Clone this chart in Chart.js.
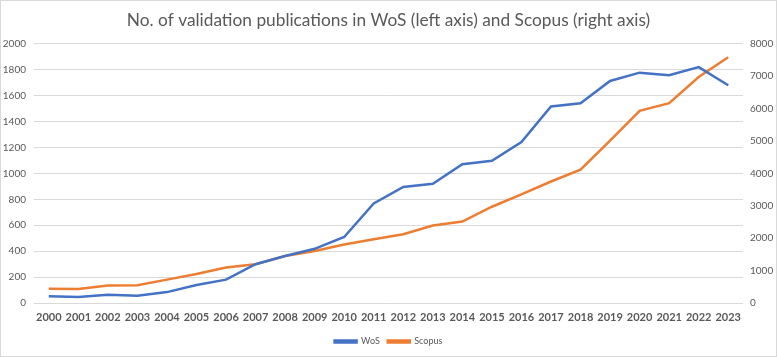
<!DOCTYPE html>
<html>
<head>
<meta charset="utf-8">
<script src="https://cdn.jsdelivr.net/npm/chart.js@4"></script>
<style>
html,body{margin:0;padding:0;background:#fff;}
#wrap{width:777px;height:357px;box-sizing:border-box;border:1px solid #d9d9d9;position:relative;}
canvas{display:block;}
</style>
</head>
<body>
<div id="wrap"><canvas id="c" width="775" height="355"></canvas></div>
<script>
const years = ["2000","2001","2002","2003","2004","2005","2006","2007","2008","2009","2010","2011","2012","2013","2014","2015","2016","2017","2018","2019","2020","2021","2022","2023"];
const wos = [53,46,63,56,84,139,180,299,362,418,509,768,895,920,1070,1097,1242,1516,1541,1713,1777,1757,1820,1680];
const scopus = [436,435,538,548,721,892,1095,1196,1450,1602,1805,1968,2120,2393,2515,2971,3355,3750,4116,5010,5931,6166,6975,7583];
const leftTicks = [0,200,400,600,800,1000,1200,1400,1600,1800,2000];
const rightTicks = [0,1000,2000,3000,4000,5000,6000,7000,8000];
const titleText = "No. of validation publications in WoS (left axis) and Scopus (right axis)";

const grey = "#595959";
const FONT = "Lato, 'Open Sans', sans-serif";

new Chart(document.getElementById('c'), {
  type: 'line',
  data: {
    labels: years,
    datasets: [
      {label:'WoS', data: wos, yAxisID:'yL', borderColor:'#4472C4', backgroundColor:'#4472C4', borderWidth:2.5, pointRadius:0, tension:0},
      {label:'Scopus', data: scopus, yAxisID:'yR', borderColor:'#ED7D31', backgroundColor:'#ED7D31', borderWidth:2.5, pointRadius:0, tension:0}
    ]
  },
  options: {
    responsive:false,
    animation:false,
    layout:{padding:{left:0,right:0,top:0,bottom:0}},
    plugins:{
      title:{display:true, text:titleText, color:grey, font:{family:FONT, size:17.3, weight:'normal'}, padding:{top:9,bottom:13}},
      legend:{position:'bottom', labels:{color:grey, font:{family:FONT, size:9}, boxWidth:22, boxHeight:2, padding:8, useBorderRadius:false}},
      tooltip:{enabled:false}
    },
    scales:{
      x:{
        offset:true,
        grid:{display:false, drawTicks:false},
        border:{display:false},
        ticks:{color:grey, font:{family:FONT, size:11, weight:'bold'}, maxRotation:0, autoSkip:false, padding:8},
        afterFit:(s)=>{s.height=26;}
      },
      yL:{
        position:'left', min:0, max:2000,
        afterBuildTicks:(s)=>{s.ticks = leftTicks.map(v=>({value:v}));},
        grid:{color:'#d9d9d9', lineWidth:1, drawTicks:false},
        border:{display:false},
        ticks:{color:grey, font:{family:FONT, size:10}, padding:8, callback:(v)=>String(v)},
        afterFit:(s)=>{s.width=33;}
      },
      yR:{
        position:'right', min:0, max:8000,
        afterBuildTicks:(s)=>{s.ticks = rightTicks.map(v=>({value:v}));},
        grid:{display:false, drawTicks:false},
        border:{display:false},
        ticks:{color:grey, font:{family:FONT, size:10}, padding:7, callback:(v)=>String(v)},
        afterFit:(s)=>{s.width=33;}
      }
    }
  }
});
</script>
</body>
</html>
